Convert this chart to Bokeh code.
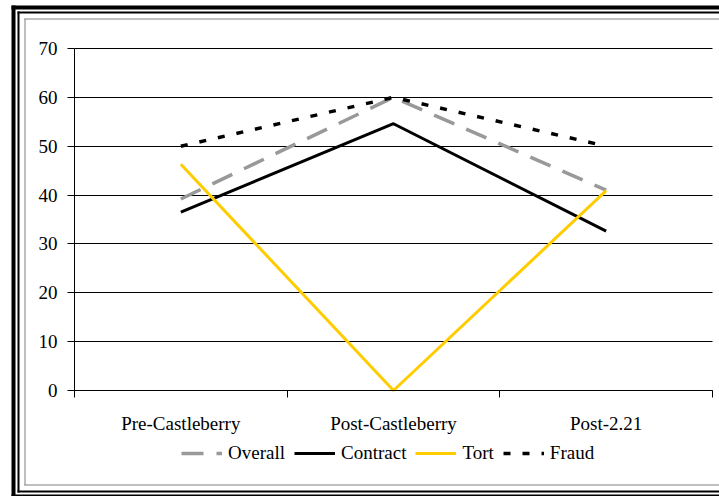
from bokeh.plotting import figure
from bokeh.models import (Range1d, FixedTicker, Legend, LegendItem, LinearAxis,
                          BoxAnnotation, Grid)
from bokeh.embed import file_html
from bokeh.resources import INLINE

categories = ["Pre-Castleberry", "Post-Castleberry", "Post-2.21"]
overall = [39.2, 60.0, 41.0]
contract = [36.5, 54.6, 32.6]
tort = [46.3, 0.0, 40.9]
fraud = [50.0, 60.0, 50.0]
y_ticks = [0, 10, 20, 30, 40, 50, 60, 70]

x = [i + 0.5 for i in range(len(categories))]
bounds = [float(i) for i in range(len(categories) + 1)]
n = len(categories)

FONT = "Liberation Serif"

# The plot frame covers the whole canvas; axes are placed at x=0 / y=0 inside it.
p = figure(width=719, height=496, output_backend="svg", toolbar_location=None,
           x_range=Range1d(-0.348, 3.033), y_range=Range1d(-21.7, 79.82),
           x_axis_location=None,
           min_border_left=0, min_border_right=0, min_border_top=0,
           min_border_bottom=0)
# keep the page from overflowing the window by a few pixels
p.styles = {"margin-right": "-8px", "margin-bottom": "-8px"}

r1 = p.line(x, overall, line_color="#999999", line_width=3.5, line_dash="22 13")
r2 = p.line(x, contract, line_color="black", line_width=3)
r3 = p.line(x, tort, line_color="#FFCC00", line_width=3)
r4 = p.line(x, fraud, line_color="black", line_width=3.5, line_dash="7 12")

legend = Legend(items=[LegendItem(label="Overall", renderers=[r1]),
                       LegendItem(label="Contract", renderers=[r2]),
                       LegendItem(label="Tort", renderers=[r3]),
                       LegendItem(label="Fraud", renderers=[r4])],
                orientation="horizontal", location=(181, 32),
                glyph_width=41, glyph_height=20, label_height=20,
                label_standoff=6, spacing=9, padding=0, margin=0,
                border_line_color=None, background_fill_alpha=0,
                label_text_font=FONT, label_text_font_size="19px",
                label_text_color="black")
p.add_layout(legend, "center")

# x axis at value 0: labels at category centres, ticks at category boundaries
xaxis = LinearAxis(fixed_location=0, bounds=(0, n),
                   ticker=FixedTicker(ticks=x, minor_ticks=bounds),
                   major_label_overrides={xi: c for xi, c in zip(x, categories)},
                   major_tick_out=0, major_tick_in=0,
                   minor_tick_out=7, minor_tick_in=0,
                   minor_tick_line_color="black",
                   major_label_standoff=16)
p.add_layout(xaxis, "below")

# y axis at x = 0
yaxis = p.yaxis[0]
yaxis.fixed_location = 0
yaxis.ticker = FixedTicker(ticks=y_ticks)
yaxis.bounds = (0, 70)
yaxis.major_tick_out = 7
yaxis.major_tick_in = 0
yaxis.minor_tick_line_color = None
yaxis.major_label_standoff = 10

for ax in (xaxis, yaxis):
    ax.axis_line_color = "black"
    ax.major_tick_line_color = "black"
    ax.major_label_text_font = FONT
    ax.major_label_text_font_size = "19px"
    ax.major_label_text_color = "black"
    ax.major_label_text_font_style = "normal"

p.xgrid.visible = False
if "cross_bounds" in Grid.properties():
    p.ygrid.cross_bounds = (0, n)
    p.ygrid.grid_line_color = "black"
    p.ygrid.grid_line_width = 1
else:
    p.ygrid.visible = False
    p.segment(x0=0, x1=n, y0=y_ticks, y1=y_ticks, line_color="black",
              line_width=1, level="underlay")
p.outline_line_color = None
p.background_fill_color = "white"
p.border_fill_color = "white"

# double frame around the chart, drawn as solid bars on the left, top and bottom
# (its right side lies outside the window)
bars = [
    # thick outer black
    (11, 15, 5, 496, "black"), (11, 719, 5, 9, "black"), (11, 719, 494, 496, "black"),
    # thin black
    (17, 19, 11, 492, "black"), (17, 719, 11, 13, "black"), (17, 719, 490, 492, "black"),
    # thin grey
    (24, 25, 18, 485, "#808080"), (24, 719, 18, 19, "#808080"), (24, 719, 484, 485, "#808080"),
]
for l, r, t, b, c in bars:
    p.add_layout(BoxAnnotation(left=l, right=r, top=t, bottom=b,
                               left_units="canvas", right_units="canvas",
                               top_units="canvas", bottom_units="canvas",
                               fill_color=c, fill_alpha=1.0,
                               line_color=None, line_alpha=0))

open("out.html", "w").write(file_html(p, INLINE))
